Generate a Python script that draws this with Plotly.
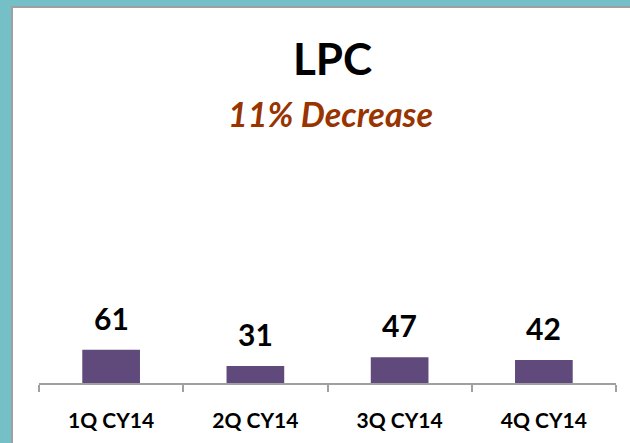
import plotly.graph_objects as go

# Data
quarters = ["1Q CY14", "2Q CY14", "3Q CY14", "4Q CY14"]
lpc_counts = [61, 31, 47, 42]
chart_title = "LPC"
chart_subtitle = "11% Decrease"

W, H = 630, 443
M_L, M_R, M_T, M_B = 39, 14, 110, 60
PLOT_W = W - M_L - M_R
PLOT_H = H - M_T - M_B


def px(x):
    return (x - M_L) / PLOT_W


def py(y):
    return (H - M_B - y) / PLOT_H


fig = go.Figure()

fig.add_trace(go.Bar(
    x=quarters,
    y=lpc_counts,
    marker=dict(color="#604A7B", line=dict(width=0)),
    width=0.4,
    hoverinfo="skip",
))

# value labels above the bars
for q, v in zip(quarters, lpc_counts):
    fig.add_annotation(x=q, y=v, text="<b>%d</b>" % v, showarrow=False,
                       xanchor="center", yanchor="bottom", yshift=12,
                       font=dict(family="Lato", size=30, color="black"))

# white panel with thin gray edge on the teal background
fig.add_shape(type="rect", xref="paper", yref="paper",
              x0=px(12), x1=px(W + 5), y0=py(H + 5), y1=py(7),
              fillcolor="white", line=dict(color="#A0A0A0", width=2),
              layer="below")

fig.add_annotation(text="<b>" + chart_title + "</b>", xref="paper", yref="paper",
                   x=px(332), y=py(58), xanchor="center", yanchor="middle",
                   showarrow=False,
                   font=dict(family="Lato", size=44, color="black"))
fig.add_annotation(text="<b><i>" + chart_subtitle + "</i></b>", xref="paper", yref="paper",
                   x=px(330), y=py(114), xanchor="center", yanchor="middle",
                   showarrow=False,
                   font=dict(family="Lato", size=34, color="#993300"))

fig.update_layout(
    width=W,
    height=H,
    margin=dict(l=M_L, r=M_R, t=M_T, b=M_B, autoexpand=False),
    paper_bgcolor="#74C0C6",
    plot_bgcolor="white",
    showlegend=False,
    font=dict(family="Lato"),
)

fig.update_xaxes(
    automargin=False,
    showline=True,
    linecolor="#A0A0A0",
    linewidth=2,
    ticks="outside",
    tickson="boundaries",
    ticklen=7,
    tickcolor="#A0A0A0",
    tickwidth=2,
    showgrid=False,
    tickfont=dict(family="Lato", size=21, color="black", weight="bold"),
    ticklabelstandoff=18,
)

fig.update_yaxes(visible=False, automargin=False, range=[0, 500])

# drop the default page margin so the figure sits at the window corner
fig.write_html("out.html", config={"displayModeBar": False},
               post_script="document.body.style.margin='0';")
